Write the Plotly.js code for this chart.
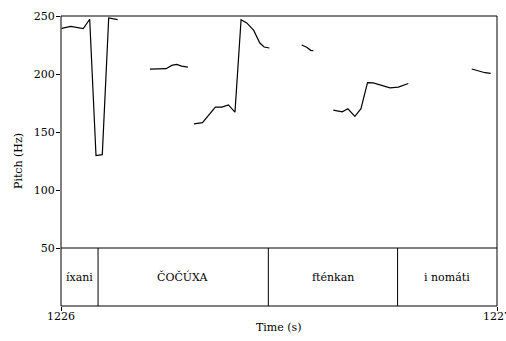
<!DOCTYPE html>
<html>
<head>
<meta charset="utf-8">
<script src="https://cdn.plot.ly/plotly-3.0.1.min.js"></script>
<style>html,body{margin:0;padding:0;background:#fff;}#chart{width:506px;height:341px;}</style>
</head>
<body>
<div id="chart"></div>
<script>
// Pitch contour segments (time in s, pitch in Hz)
const seg1Time  = [1226.0016, 1226.0222, 1226.0511, 1226.0658, 1226.0803, 1226.0947, 1226.1094, 1226.1300];
const seg1Pitch = [239.4, 241.0, 239.1, 247.2, 129.6, 130.5, 248.3, 246.8];
const seg2Time  = [1226.204, 1226.241, 1226.254, 1226.265, 1226.277, 1226.291];
const seg2Pitch = [204.2, 204.6, 207.4, 208.2, 206.8, 206.0];
const seg3Time  = [1226.305, 1226.3245, 1226.354, 1226.369, 1226.384, 1226.399, 1226.413, 1226.426, 1226.442, 1226.456, 1226.466, 1226.478];
const seg3Pitch = [157.0, 158.1, 171.4, 171.4, 173.4, 167.1, 246.8, 244.0, 237.6, 226.7, 223.3, 222.4];
const seg4Time  = [1226.552, 1226.5635, 1226.5727, 1226.5787];
const seg4Pitch = [225.0, 223.0, 220.4, 220.1];
const seg5Time  = [1226.6245, 1226.645, 1226.658, 1226.674, 1226.688, 1226.703, 1226.716, 1226.7356, 1226.7546, 1226.7736, 1226.785, 1226.7966];
const seg5Pitch = [168.8, 167.4, 170.0, 163.5, 170.1, 192.5, 192.4, 190.1, 188.1, 188.7, 190.4, 191.8];
const seg6Time  = [1226.942, 1226.957, 1226.9725, 1226.9855];
const seg6Pitch = [204.3, 202.8, 201.1, 200.5];

// Text tier
const tierBounds = [1226.0, 1226.085, 1226.4755, 1226.772, 1227.0];
const tierLabels = ["íxani", "ČOČÚXA", "fténkan", "i nomáti"];

// Axis ticks
const yTicks = [50, 100, 150, 200, 250];
const xTicks = [1226, 1227];

const segTimes = [seg1Time, seg2Time, seg3Time, seg4Time, seg5Time, seg6Time];
const segPitches = [seg1Pitch, seg2Pitch, seg3Pitch, seg4Pitch, seg5Pitch, seg6Pitch];

const FONT = "DejaVu Serif";

const traces = segTimes.map((t, i) => ({
  x: t, y: segPitches[i], type: 'scatter', mode: 'lines',
  line: {color: '#000', width: 1.2}, hoverinfo: 'skip', showlegend: false
}));

const shapes = [
  {type: 'rect', xref: 'paper', yref: 'paper', x0: 0, x1: 1, y0: 0, y1: 1, line: {color: '#000', width: 1}},
  {type: 'line', xref: 'paper', yref: 'y', x0: 0, x1: 1, y0: 50, y1: 50, line: {color: '#000', width: 1}}
];
for (let i = 1; i < tierBounds.length - 1; i++) {
  shapes.push({type: 'line', xref: 'x', yref: 'y', x0: tierBounds[i], x1: tierBounds[i], y0: 0, y1: 50, line: {color: '#000', width: 1}});
}

const annotations = tierLabels.map((lab, i) => ({
  x: (tierBounds[i] + tierBounds[i + 1]) / 2, y: 25, xref: 'x', yref: 'y',
  text: lab, showarrow: false, font: {family: FONT, size: 11, color: '#000'}
}));
annotations.push({
  xref: 'paper', yref: 'y', x: 0, y: 125, xanchor: 'center', xshift: -43,
  text: 'Pitch (Hz)', textangle: -90, showarrow: false,
  font: {family: FONT, size: 11, color: '#000'}
});
annotations.push({
  xref: 'paper', yref: 'paper', x: 0.5, y: 0, yanchor: 'middle', yshift: -21,
  text: 'Time (s)', showarrow: false,
  font: {family: FONT, size: 11, color: '#000'}
});

const layout = {
  width: 506, height: 341,
  margin: {l: 61, r: 9, t: 16, b: 35},
  paper_bgcolor: '#fff', plot_bgcolor: '#fff',
  font: {family: FONT, size: 11, color: '#000'},
  showlegend: false,
  xaxis: {
    range: [1226, 1227], tickvals: xTicks, ticktext: xTicks.map(String),
    ticks: 'outside', ticklen: 4, tickcolor: '#000', tickwidth: 1,
    showgrid: false, zeroline: false, showline: false,
    ticklabeloverflow: 'allow', ticklabelstandoff: -4,
    tickfont: {family: FONT, size: 11, color: '#000'}
  },
  yaxis: {
    range: [0, 250], tickvals: yTicks, ticktext: yTicks.map(String),
    ticks: 'outside', ticklen: 4, tickcolor: '#000', tickwidth: 1,
    showgrid: false, zeroline: false, showline: false,
    ticklabelstandoff: -1,
    tickfont: {family: FONT, size: 11, color: '#000'}
  },
  shapes: shapes,
  annotations: annotations
};

Plotly.newPlot('chart', traces, layout, {staticPlot: true, displayModeBar: false});
</script>
</body>
</html>
